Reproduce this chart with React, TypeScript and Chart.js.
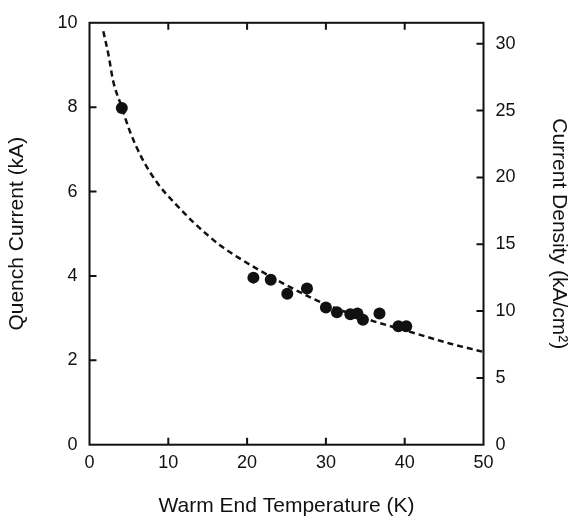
import React, { useEffect, useRef } from 'react';
import { Chart, registerables } from 'chart.js';

Chart.register(...registerables);

// Dashed fit curve (Warm end temperature K, quench current kA)
const fitTemps = [1.75, 2.4, 3.0, 4.0, 5.1, 6.6, 8.7, 10.9, 13.2, 15.1, 16.6, 19.1, 21.6, 24.6, 28.4, 30.9, 33.5, 36.0, 41.5, 45.7, 50];
const fitCurrents = [9.8, 9.25, 8.62, 8.05, 7.44, 6.81, 6.18, 5.71, 5.27, 4.95, 4.72, 4.41, 4.13, 3.82, 3.46, 3.26, 3.08, 2.93, 2.63, 2.4, 2.2];

// Measured points
const measTemps = [4.1, 20.8, 23.0, 25.1, 27.6, 30.0, 31.4, 33.1, 34.0, 34.7, 36.8, 39.2, 40.2];
const measCurrents = [7.98, 3.96, 3.91, 3.58, 3.7, 3.25, 3.14, 3.09, 3.11, 2.96, 3.11, 2.81, 2.81];

const xTicks = [0, 10, 20, 30, 40, 50];
const leftTicks = [0, 2, 4, 6, 8, 10];
const rightTicks = [0, 5, 10, 15, 20, 25, 30];
const densityPerKA = 3.157; // kA/cm² per kA

const FONT = '"Liberation Sans", Arial, Helvetica, sans-serif';
const INK = '#111';

const framePlugin = {
  id: 'frameTicks',
  afterDraw(chart: any) {
    const { ctx, chartArea } = chart;
    const { left, right, top, bottom } = chartArea;
    const xs = chart.scales.x;
    const ys = chart.scales.y;
    const y2 = chart.scales.y2;
    const L = 7;
    ctx.save();
    ctx.strokeStyle = INK;
    ctx.lineWidth = 2;
    ctx.strokeRect(left, top, right - left, bottom - top);
    ctx.beginPath();
    xTicks.forEach((v) => {
      if (v <= xTicks[0] || v >= xTicks[xTicks.length - 1]) return;
      const px = xs.getPixelForValue(v);
      ctx.moveTo(px, bottom);
      ctx.lineTo(px, bottom - L);
      ctx.moveTo(px, top);
      ctx.lineTo(px, top + L);
    });
    leftTicks.forEach((v) => {
      if (v <= 0 || v >= 10) return;
      const py = ys.getPixelForValue(v);
      ctx.moveTo(left, py);
      ctx.lineTo(left + L, py);
    });
    rightTicks.forEach((v) => {
      if (v <= 0) return;
      const py = y2.getPixelForValue(v);
      ctx.moveTo(right, py);
      ctx.lineTo(right - L, py);
    });
    ctx.stroke();
    ctx.restore();
  },
};

export default function App() {
  const ref = useRef<HTMLCanvasElement | null>(null);

  useEffect(() => {
    if (!ref.current) return;
    const tickFont = { family: FONT, size: 18 };
    const titleFont = { family: FONT, size: 21 };
    const chart = new Chart(ref.current, {
      type: 'scatter',
      data: {
        datasets: [
          {
            label: 'fit',
            data: fitTemps.map((t, i) => ({ x: t, y: fitCurrents[i] })),
            showLine: true,
            borderColor: INK,
            borderWidth: 2.5,
            borderDash: [6, 4],
            pointRadius: 0,
            cubicInterpolationMode: 'monotone',
            fill: false,
            yAxisID: 'y',
          },
          {
            label: 'measured',
            data: measTemps.map((t, i) => ({ x: t, y: measCurrents[i] })),
            showLine: false,
            pointRadius: 6,
            pointBackgroundColor: INK,
            pointBorderColor: INK,
            pointBorderWidth: 0,
            yAxisID: 'y',
          },
        ],
      },
      options: {
        responsive: false,
        animation: false,
        devicePixelRatio: 1,
        layout: { padding: { top: 21.7, left: 0, right: 0, bottom: 0 } },
        plugins: { legend: { display: false }, tooltip: { enabled: false } },
        scales: {
          x: {
            type: 'linear',
            position: 'bottom',
            min: 0,
            max: 50,
            ticks: { stepSize: 10, font: tickFont, color: INK, padding: 8, maxRotation: 0 },
            grid: { display: false, drawTicks: false },
            border: { display: false },
            title: {
              display: true,
              text: 'Warm End Temperature (K)',
              font: titleFont,
              color: INK,
              padding: { top: 0, bottom: -3 },
            },
            afterFit: (s: any) => {
              s.height = 71.3;
            },
          },
          y: {
            type: 'linear',
            position: 'left',
            min: 0,
            max: 10,
            ticks: { stepSize: 2, font: tickFont, color: INK, padding: 12 },
            grid: { display: false, drawTicks: false },
            border: { display: false },
            title: {
              display: true,
              text: 'Quench Current (kA)',
              font: titleFont,
              color: INK,
              padding: { top: 4.4, bottom: 0 },
            },
            afterFit: (s: any) => {
              s.width = 89.5;
            },
          },
          y2: {
            type: 'linear',
            position: 'right',
            min: 0,
            max: 10 * densityPerKA,
            ticks: { stepSize: 5, font: tickFont, color: INK, padding: 12 },
            afterBuildTicks: (s: any) => {
              s.ticks = rightTicks.map((v) => ({ value: v }));
            },
            grid: { display: false, drawTicks: false },
            border: { display: false },
            title: {
              display: true,
              text: 'Current Density (kA/cm²)',
              font: titleFont,
              color: INK,
              padding: { top: 0, bottom: 0 },
            },
            afterFit: (s: any) => {
              s.width = 87.5;
            },
          },
        },
      },
      plugins: [framePlugin],
    } as any);
    return () => chart.destroy();
  }, []);

  return (
    <div style={{ position: 'absolute', left: 0, top: 0, width: 571, height: 516, background: '#fff' }}>
      <canvas ref={ref} width={571} height={516} style={{ display: 'block' }} />
    </div>
  );
}
